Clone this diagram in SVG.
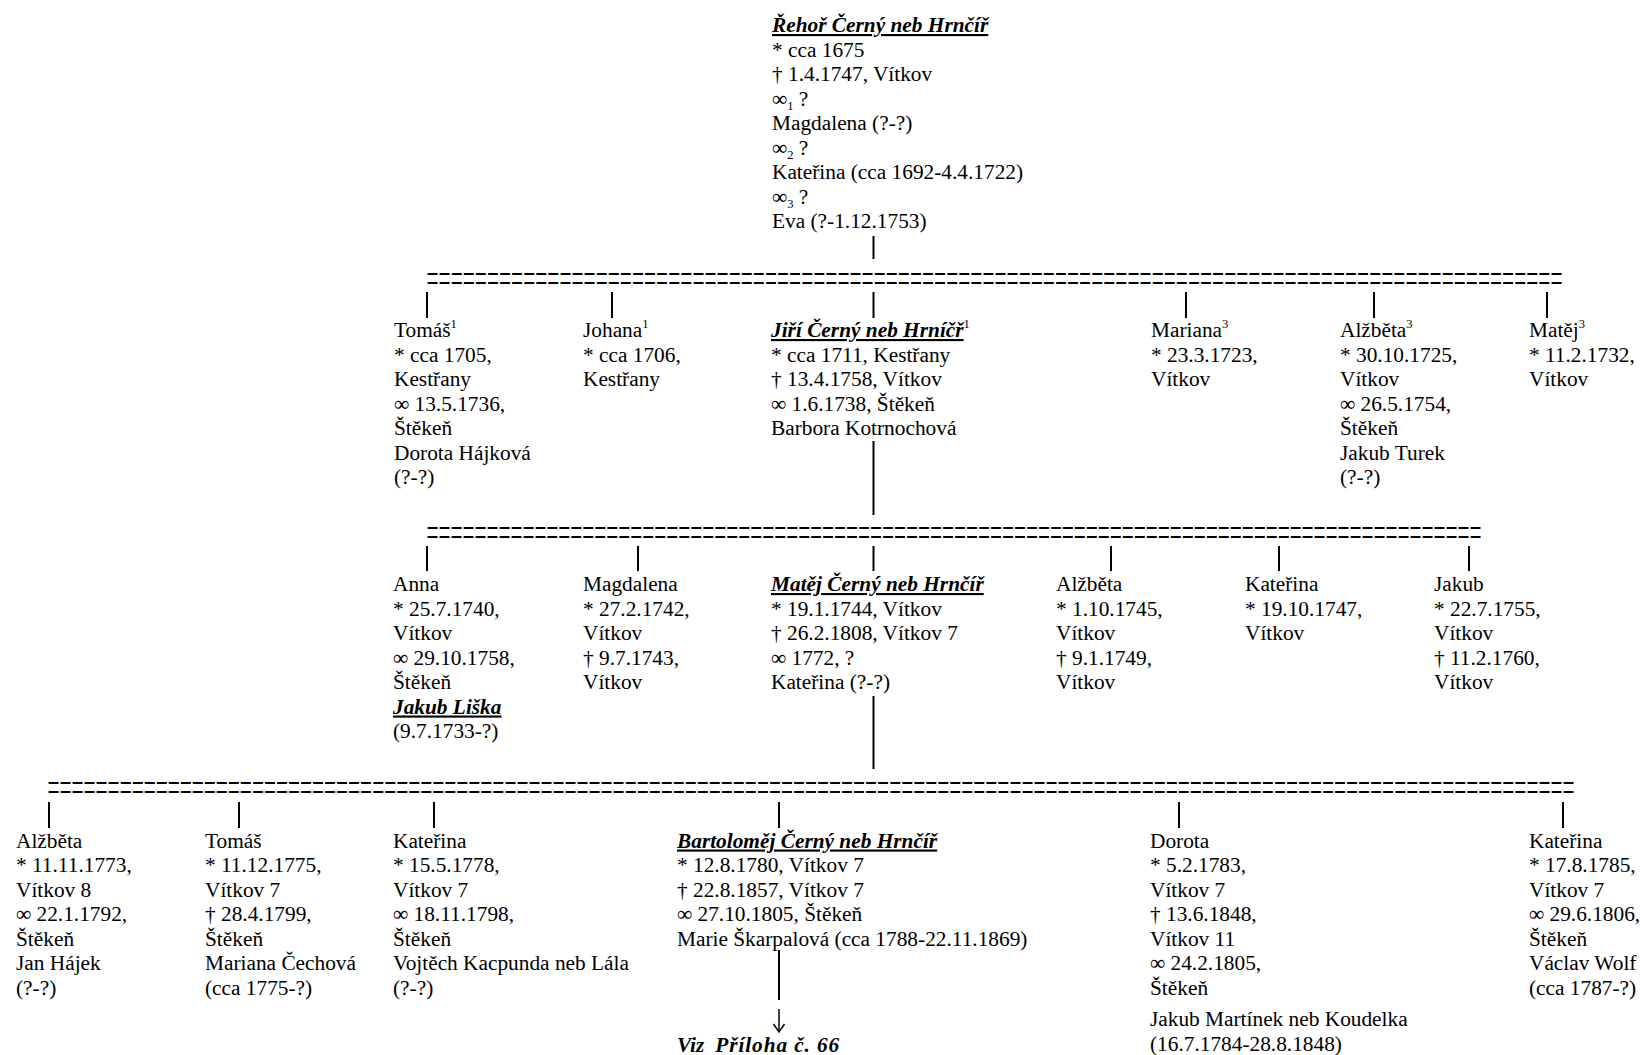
<svg xmlns="http://www.w3.org/2000/svg" width="1640" height="1055" viewBox="0 0 1640 1055">
<style>
text{font-family:"Liberation Serif","Times New Roman",serif;font-size:21.33px;fill:#000}
.h{font-weight:bold;font-style:italic;text-decoration:underline}
.bi{font-weight:bold;font-style:italic}
.s{font-size:12.5px}
.eq{font-size:21.33px}
#connectors line{stroke:#000;stroke-width:2}
#connectors path{stroke:#000;stroke-width:1.5;fill:none}
</style>
<rect width="1640" height="1055" fill="#fff"/>
<g id="connectors">
<line x1="873.5" y1="236" x2="873.5" y2="259"/>
<g transform="translate(0,291.5) scale(1,2)"><text class="eq" x="426.5" y="0" textLength="1136" lengthAdjust="spacing">==============================================================================================</text></g>
<line x1="427" y1="292" x2="427" y2="318"/>
<line x1="612" y1="292" x2="612" y2="318"/>
<line x1="873.5" y1="292" x2="873.5" y2="318"/>
<line x1="1186" y1="292" x2="1186" y2="318"/>
<line x1="1374" y1="292" x2="1374" y2="318"/>
<line x1="1547" y1="292" x2="1547" y2="318"/>
<line x1="873.5" y1="441" x2="873.5" y2="515"/>
<g transform="translate(0,546) scale(1,2)"><text class="eq" x="426.5" y="0" textLength="1055" lengthAdjust="spacing">========================================================================================</text></g>
<line x1="427" y1="546" x2="427" y2="571"/>
<line x1="638" y1="546" x2="638" y2="571"/>
<line x1="873.5" y1="546" x2="873.5" y2="571"/>
<line x1="1111" y1="546" x2="1111" y2="571"/>
<line x1="1279" y1="546" x2="1279" y2="571"/>
<line x1="1469" y1="546" x2="1469" y2="571"/>
<line x1="873.5" y1="696" x2="873.5" y2="769"/>
<g transform="translate(0,801) scale(1,2)"><text class="eq" x="47.5" y="0" textLength="1527" lengthAdjust="spacing">===============================================================================================================================</text></g>
<line x1="49" y1="802" x2="49" y2="828"/>
<line x1="239" y1="802" x2="239" y2="828"/>
<line x1="434" y1="802" x2="434" y2="828"/>
<line x1="779" y1="802" x2="779" y2="828"/>
<line x1="1179" y1="802" x2="1179" y2="828"/>
<line x1="1563" y1="802" x2="1563" y2="828"/>
<line x1="779" y1="950" x2="779" y2="1000"/>
<line x1="779" y1="1009" x2="779" y2="1031" style="stroke-width:1.5"/>
<path d="M773.5,1024 L779,1032 L784.5,1024"/>
</g>
<g id="rehor"><text>
<tspan x="772" y="32" class="h">Řehoř Černý neb Hrnčíř</tspan>
<tspan x="772" y="56.5">* cca 1675</tspan>
<tspan x="772" y="81">† 1.4.1747, Vítkov</tspan>
<tspan x="772" y="105.5">∞<tspan class="s" dy="4">1</tspan><tspan dy="-4"> ?</tspan></tspan>
<tspan x="772" y="130">Magdalena (?-?)</tspan>
<tspan x="772" y="154.5">∞<tspan class="s" dy="4">2</tspan><tspan dy="-4"> ?</tspan></tspan>
<tspan x="772" y="179">Kateřina (cca 1692-4.4.1722)</tspan>
<tspan x="772" y="203.5">∞<tspan class="s" dy="4">3</tspan><tspan dy="-4"> ?</tspan></tspan>
<tspan x="772" y="228">Eva (?-1.12.1753)</tspan>
</text></g>
<g id="tomas1"><text>
<tspan x="394" y="337">Tomáš<tspan class="s" dy="-9">1</tspan></tspan>
<tspan x="394" y="361.5">* cca 1705,</tspan>
<tspan x="394" y="386">Kestřany</tspan>
<tspan x="394" y="410.5">∞ 13.5.1736,</tspan>
<tspan x="394" y="435">Štěkeň</tspan>
<tspan x="394" y="459.5">Dorota Hájková</tspan>
<tspan x="394" y="484">(?-?)</tspan>
</text></g>
<g id="johana"><text>
<tspan x="583" y="337">Johana<tspan class="s" dy="-9">1</tspan></tspan>
<tspan x="583" y="361.5">* cca 1706,</tspan>
<tspan x="583" y="386">Kestřany</tspan>
</text></g>
<g id="jiri"><text>
<tspan x="771" y="337"><tspan class="h">Jiří Černý neb Hrníčř</tspan><tspan class="s" dy="-9">1</tspan></tspan>
<tspan x="771" y="361.5">* cca 1711, Kestřany</tspan>
<tspan x="771" y="386">† 13.4.1758, Vítkov</tspan>
<tspan x="771" y="410.5">∞ 1.6.1738, Štěkeň</tspan>
<tspan x="771" y="435">Barbora Kotrnochová</tspan>
</text></g>
<g id="mariana"><text>
<tspan x="1151" y="337">Mariana<tspan class="s" dy="-9">3</tspan></tspan>
<tspan x="1151" y="361.5">* 23.3.1723,</tspan>
<tspan x="1151" y="386">Vítkov</tspan>
</text></g>
<g id="alzbeta1"><text>
<tspan x="1340" y="337">Alžběta<tspan class="s" dy="-9">3</tspan></tspan>
<tspan x="1340" y="361.5">* 30.10.1725,</tspan>
<tspan x="1340" y="386">Vítkov</tspan>
<tspan x="1340" y="410.5">∞ 26.5.1754,</tspan>
<tspan x="1340" y="435">Štěkeň</tspan>
<tspan x="1340" y="459.5">Jakub Turek</tspan>
<tspan x="1340" y="484">(?-?)</tspan>
</text></g>
<g id="matej1"><text>
<tspan x="1529" y="337">Matěj<tspan class="s" dy="-9">3</tspan></tspan>
<tspan x="1529" y="361.5">* 11.2.1732,</tspan>
<tspan x="1529" y="386">Vítkov</tspan>
</text></g>
<g id="anna"><text>
<tspan x="393" y="591">Anna</tspan>
<tspan x="393" y="615.5">* 25.7.1740,</tspan>
<tspan x="393" y="640">Vítkov</tspan>
<tspan x="393" y="664.5">∞ 29.10.1758,</tspan>
<tspan x="393" y="689">Štěkeň</tspan>
<tspan x="393" y="713.5" class="h">Jakub Liška</tspan>
<tspan x="393" y="738">(9.7.1733-?)</tspan>
</text></g>
<g id="magdalena"><text>
<tspan x="583" y="591">Magdalena</tspan>
<tspan x="583" y="615.5">* 27.2.1742,</tspan>
<tspan x="583" y="640">Vítkov</tspan>
<tspan x="583" y="664.5">† 9.7.1743,</tspan>
<tspan x="583" y="689">Vítkov</tspan>
</text></g>
<g id="matej2"><text>
<tspan x="771" y="591" class="h">Matěj Černý neb Hrnčíř</tspan>
<tspan x="771" y="615.5">* 19.1.1744, Vítkov</tspan>
<tspan x="771" y="640">† 26.2.1808, Vítkov 7</tspan>
<tspan x="771" y="664.5">∞ 1772, ?</tspan>
<tspan x="771" y="689">Kateřina (?-?)</tspan>
</text></g>
<g id="alzbeta2"><text>
<tspan x="1056" y="591">Alžběta</tspan>
<tspan x="1056" y="615.5">* 1.10.1745,</tspan>
<tspan x="1056" y="640">Vítkov</tspan>
<tspan x="1056" y="664.5">† 9.1.1749,</tspan>
<tspan x="1056" y="689">Vítkov</tspan>
</text></g>
<g id="katerina2"><text>
<tspan x="1245" y="591">Kateřina</tspan>
<tspan x="1245" y="615.5">* 19.10.1747,</tspan>
<tspan x="1245" y="640">Vítkov</tspan>
</text></g>
<g id="jakub2"><text>
<tspan x="1434" y="591">Jakub</tspan>
<tspan x="1434" y="615.5">* 22.7.1755,</tspan>
<tspan x="1434" y="640">Vítkov</tspan>
<tspan x="1434" y="664.5">† 11.2.1760,</tspan>
<tspan x="1434" y="689">Vítkov</tspan>
</text></g>
<g id="alzbeta3"><text>
<tspan x="16" y="847.5">Alžběta</tspan>
<tspan x="16" y="872">* 11.11.1773,</tspan>
<tspan x="16" y="896.5">Vítkov 8</tspan>
<tspan x="16" y="921">∞ 22.1.1792,</tspan>
<tspan x="16" y="945.5">Štěkeň</tspan>
<tspan x="16" y="970">Jan Hájek</tspan>
<tspan x="16" y="994.5">(?-?)</tspan>
</text></g>
<g id="tomas3"><text>
<tspan x="205" y="847.5">Tomáš</tspan>
<tspan x="205" y="872">* 11.12.1775,</tspan>
<tspan x="205" y="896.5">Vítkov 7</tspan>
<tspan x="205" y="921">† 28.4.1799,</tspan>
<tspan x="205" y="945.5">Štěkeň</tspan>
<tspan x="205" y="970">Mariana Čechová</tspan>
<tspan x="205" y="994.5">(cca 1775-?)</tspan>
</text></g>
<g id="katerina3a"><text>
<tspan x="393" y="847.5">Kateřina</tspan>
<tspan x="393" y="872">* 15.5.1778,</tspan>
<tspan x="393" y="896.5">Vítkov 7</tspan>
<tspan x="393" y="921">∞ 18.11.1798,</tspan>
<tspan x="393" y="945.5">Štěkeň</tspan>
<tspan x="393" y="970">Vojtěch Kacpunda neb Lála</tspan>
<tspan x="393" y="994.5">(?-?)</tspan>
</text></g>
<g id="bartolomej"><text>
<tspan x="677" y="847.5" class="h">Bartoloměj Černý neb Hrnčíř</tspan>
<tspan x="677" y="872">* 12.8.1780, Vítkov 7</tspan>
<tspan x="677" y="896.5">† 22.8.1857, Vítkov 7</tspan>
<tspan x="677" y="921">∞ 27.10.1805, Štěkeň</tspan>
<tspan x="677" y="945.5">Marie Škarpalová (cca 1788-22.11.1869)</tspan>
</text></g>
<g id="viz"><text x="677" y="1052" class="bi">Viz<tspan dx="11" textLength="124" lengthAdjust="spacing">Příloha č. 66</tspan></text></g>
<g id="dorota"><text>
<tspan x="1150" y="847.5">Dorota</tspan>
<tspan x="1150" y="872">* 5.2.1783,</tspan>
<tspan x="1150" y="896.5">Vítkov 7</tspan>
<tspan x="1150" y="921">† 13.6.1848,</tspan>
<tspan x="1150" y="945.5">Vítkov 11</tspan>
<tspan x="1150" y="970">∞ 24.2.1805,</tspan>
<tspan x="1150" y="994.5">Štěkeň</tspan>
<tspan x="1150" y="1026">Jakub Martínek neb Koudelka</tspan>
<tspan x="1150" y="1050.5">(16.7.1784-28.8.1848)</tspan>
</text></g>
<g id="katerina3b"><text>
<tspan x="1529" y="847.5">Kateřina</tspan>
<tspan x="1529" y="872">* 17.8.1785,</tspan>
<tspan x="1529" y="896.5">Vítkov 7</tspan>
<tspan x="1529" y="921">∞ 29.6.1806,</tspan>
<tspan x="1529" y="945.5">Štěkeň</tspan>
<tspan x="1529" y="970">Václav Wolf</tspan>
<tspan x="1529" y="994.5">(cca 1787-?)</tspan>
</text></g>
</svg>
